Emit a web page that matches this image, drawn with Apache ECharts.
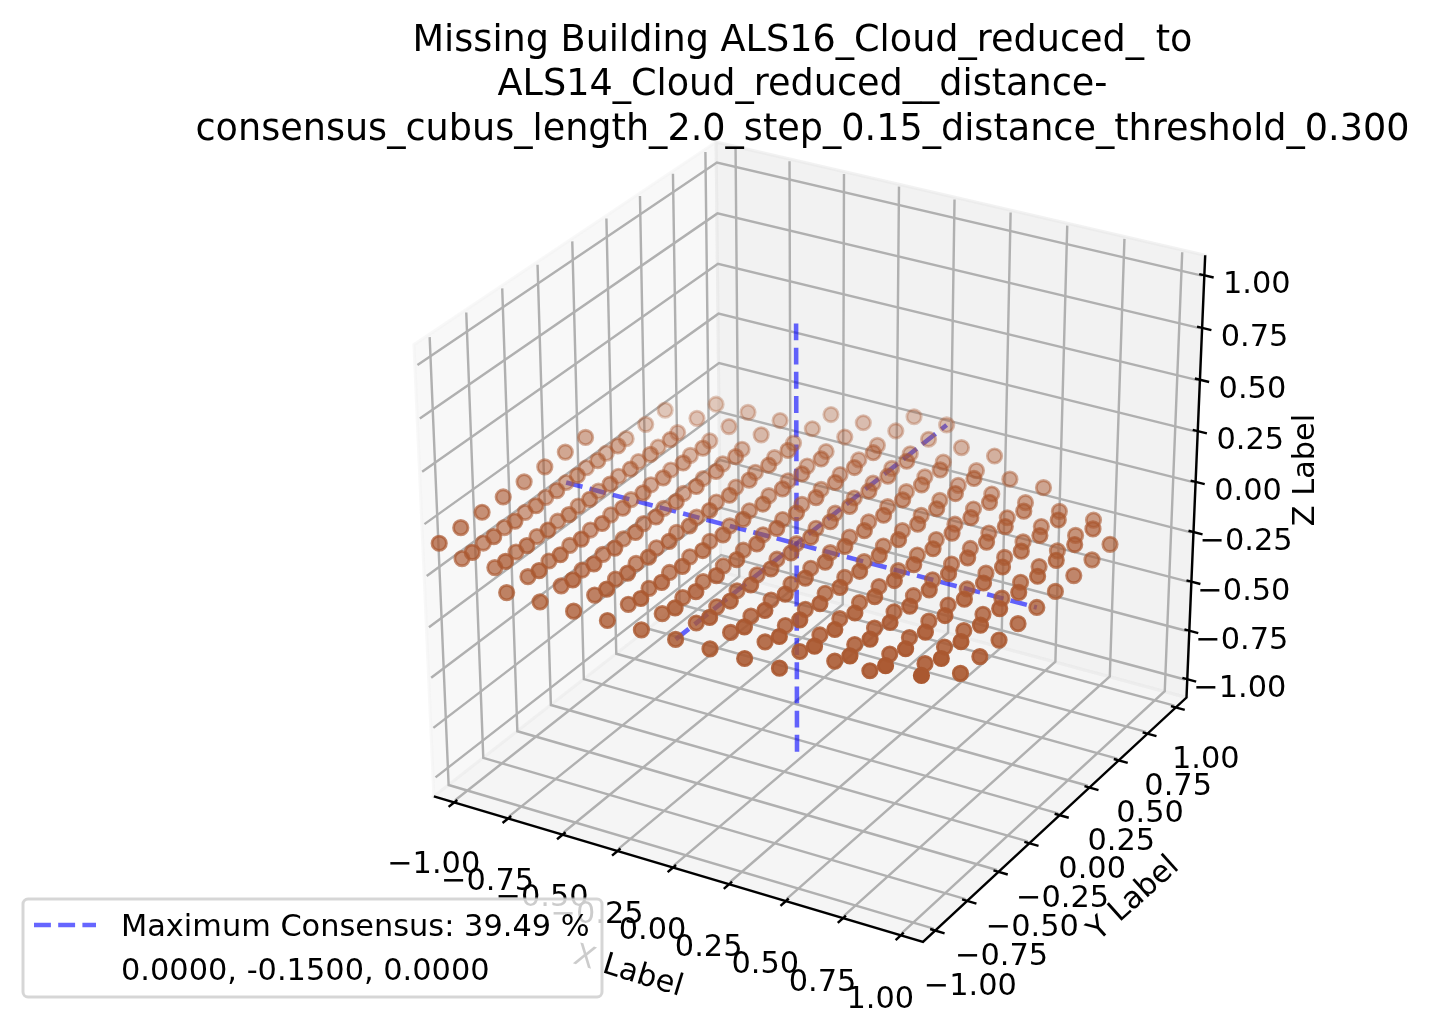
<!DOCTYPE html>
<html>
<head>
<meta charset="utf-8">
<script src="https://cdn.jsdelivr.net/npm/echarts@6/dist/echarts.min.js"></script>
<style>html,body{margin:0;padding:0;background:#fff}#c{width:1432px;height:1020px}</style>
</head>
<body>
<div id="c"></div>
<script>
const titleLines = ["Missing Building ALS16_Cloud_reduced_ to", "ALS14_Cloud_reduced__distance-", "consensus_cubus_length_2.0_step_0.15_distance_threshold_0.300"];
const legendLines = ["Maximum Consensus: 39.49 %", "0.0000, -0.1500, 0.0000"];
const tickValues = [-1, -0.75, -0.5, -0.25, 0, 0.25, 0.5, 0.75, 1];
const tickLabels = ["\u22121.00", "\u22120.75", "\u22120.50", "\u22120.25", "0.00", "0.25", "0.50", "0.75", "1.00"];
const axisNames = ["X Label", "Y Label", "Z Label"];
const bestPoint = [0, -0.15, 0];
const crossReach = 1.05;

// one x value per column of detected cells
const columnX = [-1.05, -0.9, -0.75, -0.6, -0.45, -0.3, -0.15, 0, 0.15, 0.3, 0.45, 0.6, 0.75, 0.9, 1.05];

// y values of the cells in the layer z = 0, column by column
const layerLowZ = 0;
const layerLowY = [
  [-0.9,-0.75,-0.6,-0.45,-0.3,-0.15,0,0.15,0.3,0.45,0.6],
  [-0.9,-0.75,-0.6,-0.45,-0.3,-0.15,0,0.15,0.3,0.45,0.6,0.75],
  [-1.05,-0.9,-0.75,-0.6,-0.45,-0.3,-0.15,0,0.15,0.3,0.45,0.6,0.75],
  [-1.05,-0.9,-0.75,-0.6,-0.45,-0.3,-0.15,0,0.15,0.3,0.45,0.6,0.75],
  [-1.05,-0.9,-0.75,-0.6,-0.45,-0.3,-0.15,0,0.15,0.3,0.45,0.6,0.75,0.9],
  [-1.05,-0.9,-0.75,-0.6,-0.45,-0.3,-0.15,0,0.15,0.3,0.45,0.6,0.75,0.9],
  [-1.05,-0.9,-0.75,-0.6,-0.45,-0.3,-0.15,0,0.15,0.3,0.45,0.6,0.75,0.9,1.05],
  [-1.05,-0.9,-0.75,-0.6,-0.45,-0.3,-0.15,0,0.15,0.3,0.45,0.6,0.75,0.9,1.05],
  [-1.05,-0.9,-0.75,-0.6,-0.45,-0.3,-0.15,0,0.15,0.3,0.45,0.6,0.75,0.9],
  [-1.05,-0.9,-0.75,-0.6,-0.45,-0.3,-0.15,0,0.15,0.3,0.45,0.6,0.75,0.9],
  [-1.05,-0.9,-0.75,-0.6,-0.45,-0.3,-0.15,0,0.15,0.3,0.45,0.6,0.75],
  [-0.9,-0.75,-0.6,-0.45,-0.3,-0.15,0,0.15,0.3,0.45,0.6,0.75],
  [-0.9,-0.75,-0.6,-0.45,-0.3,-0.15,0,0.15,0.3,0.45,0.6],
  [-0.75,-0.6,-0.45,-0.3,-0.15,0,0.15,0.3,0.45,0.6],
  [-0.75,-0.6,-0.45,-0.3,-0.15,0,0.15,0.3,0.45]
];

// y values of the cells in the layer z = 0.15, column by column
const layerHighZ = 0.15;
const layerHighY = [
  [-1.05,-0.9,-0.75,-0.6,-0.45,-0.3,-0.15,0],
  [-1.05,-0.9,-0.75,-0.6,-0.45,-0.3,-0.15,0],
  [-1.05,-0.9,-0.75,-0.6,-0.45,-0.3,-0.15,0,0.15],
  [-1.05,-0.9,-0.75,-0.6,-0.45,-0.3,-0.15,0,0.15],
  [-1.05,-0.9,-0.75,-0.6,-0.45,-0.3,-0.15,0,0.15],
  [-1.05,-0.9,-0.75,-0.6,-0.45,-0.3,-0.15,0,0.15,0.3],
  [-1.05,-0.9,-0.75,-0.6,-0.45,-0.3,-0.15,0,0.15,0.3],
  [-1.05,-0.9,-0.75,-0.6,-0.45,-0.3,-0.15,0,0.15,0.3,0.45],
  [-1.05,-0.9,-0.75,-0.6,-0.45,-0.3,-0.15,0,0.15,0.3,0.45],
  [-1.05,-0.9,-0.75,-0.6,-0.45,-0.3,-0.15,0,0.15,0.3,0.45],
  [-1.05,-0.9,-0.75,-0.6,-0.45,-0.3,-0.15,0,0.15,0.3,0.45],
  [-1.05,-0.9,-0.75,-0.6,-0.45,-0.3,-0.15,0,0.15,0.3],
  [-1.05,-0.9,-0.75,-0.6,-0.45,-0.3,-0.15,0,0.15,0.3],
  [-1.05,-0.9,-0.75,-0.6,-0.45,-0.3,-0.15,0,0.15,0.3],
  [-1.05,-0.9,-0.75,-0.6,-0.45,-0.3,-0.15,0,0.15,0.3]
];

// ---- view of the 3D box (elevation 30, azimuth -60, distance 10) ----
const BOX = 1.095, GRID = 1.088, TICK_OUT = 0.04, TICK_IN = 0.022;
const VIEW_U = [0.8660254, 0.5, 0], VIEW_V = [-0.25, 0.4330127, 0.8660254], VIEW_N = [0.4330127, -0.75, 0.5];
const dot = (a, b) => a[0]*b[0] + a[1]*b[1] + a[2]*b[2];
function depthOf(p) { const q = p.map(v => v / (2*BOX)); return -dot(VIEW_N, q); }
function project(p) {
  const q = p.map(v => v / (2*BOX));
  const f = 1 - dot(VIEW_N, q) / 10;
  return [dot(VIEW_U, q) / f, dot(VIEW_V, q) / f];
}

const FONT = "'DejaVu Sans'";
const LABEL_PX = 30.4, TITLE_PX = 36.6;
const silentLine = (pts, color, width, extra) => Object.assign({
  type: 'line', silent: true, showSymbol: false, symbol: 'none', animation: false, clip: false,
  data: pts.map(project), lineStyle: {color, width, cap: 'butt', join: 'miter'}, z: 2
}, extra || {});

const series = [];

// panes
const panes = [
  {c: 'rgba(242,242,242,0.5)', p: [[-BOX,-BOX,-BOX],[-BOX,BOX,-BOX],[-BOX,BOX,BOX],[-BOX,-BOX,BOX]]},
  {c: 'rgba(230,230,230,0.5)', p: [[-BOX,BOX,-BOX],[BOX,BOX,-BOX],[BOX,BOX,BOX],[-BOX,BOX,BOX]]},
  {c: 'rgba(236,236,236,0.5)', p: [[-BOX,-BOX,-BOX],[BOX,-BOX,-BOX],[BOX,BOX,-BOX],[-BOX,BOX,-BOX]]}
];
series.push({
  type: 'custom', silent: true, animation: false, clip: false, z: 1,
  data: panes.map((_, i) => i),
  encode: {x: [], y: []},
  renderItem(params, api) {
    const pane = panes[params.dataIndex];
    return {
      type: 'polygon',
      shape: {points: pane.p.map(c => api.coord(project(c)))},
      style: {fill: pane.c, stroke: pane.c, lineWidth: 3}
    };
  }
});

// grid lines
const GRIDC = '#b0b0b0', GRIDW = 2.43;
tickValues.forEach(t => {
  series.push(silentLine([[t,-GRID,-GRID],[t,GRID,-GRID],[t,GRID,GRID]], GRIDC, GRIDW));
  series.push(silentLine([[GRID,t,-GRID],[-GRID,t,-GRID],[-GRID,t,GRID]], GRIDC, GRIDW));
  series.push(silentLine([[-GRID,-GRID,t],[-GRID,GRID,t],[GRID,GRID,t]], GRIDC, GRIDW));
});

// axis lines and ticks
series.push(silentLine([[-BOX,-BOX,-BOX],[BOX,-BOX,-BOX],[BOX,BOX,-BOX],[BOX,BOX,BOX]], '#000', 2.43, {z: 3}));
tickValues.forEach(t => {
  series.push(silentLine([[t,-BOX-TICK_OUT,-BOX],[t,-BOX+TICK_IN,-BOX]], '#000', 2.43, {z: 3}));
  series.push(silentLine([[BOX+TICK_OUT,t,-BOX],[BOX-TICK_IN,t,-BOX]], '#000', 2.43, {z: 3}));
  series.push(silentLine([[BOX+TICK_OUT,BOX,t],[BOX-TICK_IN,BOX,t]], '#000', 2.43, {z: 3}));
});

// tick labels
const labelSeries = (anchor, offset) => ({
  type: 'scatter', silent: true, animation: false, clip: false, symbolSize: 0, z: 4,
  itemStyle: {opacity: 1},
  data: tickValues.map((t, i) => ({value: project(anchor(t)), name: tickLabels[i], label: {offset: offset(t)}})),
  label: {show: true, position: 'inside', formatter: '{b}', color: '#000', opacity: 1,
          fontFamily: FONT, fontSize: LABEL_PX, align: 'center', verticalAlign: 'middle'}
});
series.push(labelSeries(t => [t,-BOX,-BOX], t => [-20.5, 63 + (t + 1)]));
series.push(labelSeries(t => [BOX,t,-BOX], t => [30 + 2.5 * (1 - t), 53 + 2 * (1 - t)]));
series.push(labelSeries(t => [BOX,BOX,t], t => [52.5, 10]));

// blue cross through the best point
const BLUE = 'rgba(0,0,255,0.6)';
const cross = [
  [[-crossReach,bestPoint[1],bestPoint[2]],[crossReach,bestPoint[1],bestPoint[2]]],
  [[bestPoint[0],-crossReach,bestPoint[2]],[bestPoint[0],crossReach,bestPoint[2]]],
  [[bestPoint[0],bestPoint[1],crossReach],[bestPoint[0],bestPoint[1],-crossReach]]
];
cross.forEach(seg => {
  const s = silentLine(seg, BLUE, 4.56, {z: 5});
  s.lineStyle.type = [16.9, 7.3];
  series.push(s);
});

// detected cells with depth shading
const cells = [];
columnX.forEach((x, i) => {
  layerLowY[i].forEach(y => cells.push([x, y, layerLowZ]));
  layerHighY[i].forEach(y => cells.push([x, y, layerHighZ]));
});
const depths = cells.map(depthOf);
const dMin = Math.min(...depths), dMax = Math.max(...depths);
const POINT_RGB = '170,88,48', POINT_ALPHA = 1;
const order = cells.map((_, i) => i).sort((a, b) => depths[b] - depths[a]);
series.push({
  type: 'scatter', silent: true, animation: false, clip: false, z: 6, symbol: 'circle', symbolSize: 14.4,
  large: false, progressive: 0,
  data: order.map(i => {
    const a = POINT_ALPHA * (1 - 0.7 * (depths[i] - dMin) / (dMax - dMin));
    const c = `rgba(${POINT_RGB},${a.toFixed(3)})`;
    return {value: project(cells[i]), itemStyle: {color: c, borderColor: c, borderWidth: 2.8, opacity: 1}};
  })
});

const graphic = [
  {type: 'text', z: 20, x: 628, y: 972, rotation: -17 * Math.PI / 180,
   style: {text: axisNames[0], font: `${LABEL_PX}px ${FONT}`, fill: '#000', align: 'center', verticalAlign: 'middle'}},
  {type: 'text', z: 20, x: 1134, y: 899, rotation: 42 * Math.PI / 180,
   style: {text: axisNames[1], font: `${LABEL_PX}px ${FONT}`, fill: '#000', align: 'center', verticalAlign: 'middle'}},
  {type: 'text', z: 20, x: 1306, y: 470, rotation: 90 * Math.PI / 180,
   style: {text: axisNames[2], font: `${LABEL_PX}px ${FONT}`, fill: '#000', align: 'center', verticalAlign: 'middle'}},
  {type: 'rect', z: 30, shape: {x: 23, y: 899, width: 579, height: 98, r: 5},
   style: {fill: 'rgba(255,255,255,0.8)', stroke: 'rgba(204,204,204,0.8)', lineWidth: 3}},
  {type: 'line', z: 31, shape: {x1: 34, y1: 925, x2: 96, y2: 925},
   style: {stroke: BLUE, lineWidth: 4.56, lineDash: [16.9, 7.3], lineCap: 'butt'}},
  {type: 'text', z: 31, x: 121, y: 928,
   style: {text: legendLines[0], font: `${LABEL_PX}px ${FONT}`, fill: '#000', align: 'left', verticalAlign: 'middle'}},
  {type: 'text', z: 31, x: 121, y: 972,
   style: {text: legendLines[1], font: `${LABEL_PX}px ${FONT}`, fill: '#000', align: 'left', verticalAlign: 'middle'}}
];

const chart = echarts.init(document.getElementById('c'), null, {renderer: 'canvas', width: 1432, height: 1020});
const CX = 816, CY = 528.3, SX = 564.6, SY = 515.8;
chart.setOption({
  animation: false,
  backgroundColor: '#fff',
  title: {
    text: titleLines.join('\n'), left: 797.5, top: 14, textAlign: 'center',
    textStyle: {fontFamily: FONT, fontSize: TITLE_PX, fontWeight: 'normal', color: '#000', lineHeight: 44.5}
  },
  grid: {left: 0, right: 0, top: 0, bottom: 0},
  xAxis: {type: 'value', show: false, min: (0 - CX) / SX, max: (1432 - CX) / SX},
  yAxis: {type: 'value', show: false, min: (CY - 1020) / SY, max: CY / SY},
  tooltip: {show: false},
  series,
  graphic
});
</script>
</body>
</html>
